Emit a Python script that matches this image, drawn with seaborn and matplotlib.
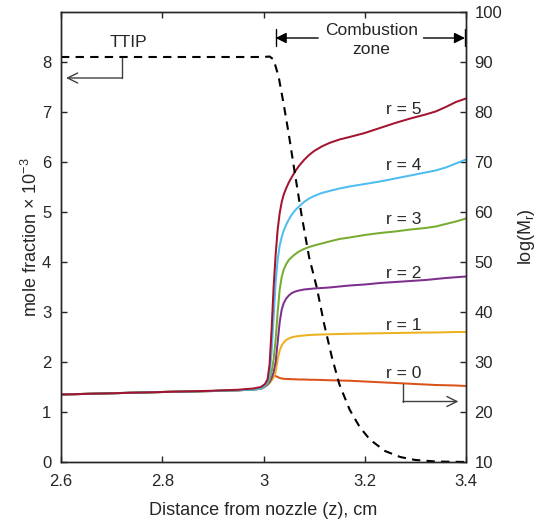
import matplotlib
matplotlib.use("Agg")
import matplotlib.pyplot as plt
import seaborn as sns
import pandas as pd

# ---------------- data ----------------
z_grid = [2.600, 2.700, 2.800, 2.900, 2.950, 2.980, 2.995, 3.003, 3.008, 3.012,
          3.016, 3.020, 3.024, 3.028, 3.032, 3.036, 3.040, 3.045, 3.050, 3.056,
          3.063, 3.070, 3.080, 3.090, 3.100, 3.115, 3.130, 3.150, 3.170, 3.200,
          3.230, 3.260, 3.290, 3.320, 3.340, 3.360, 3.380, 3.400]

r0 = [23.5, 23.75, 24.0, 24.2, 24.35, 24.5, 24.65, 25.2, 25.8, 26.4,
      26.9, 27.2, 27.2, 27.0, 26.8, 26.7, 26.65, 26.6, 26.6, 26.55,
      26.55, 26.5, 26.5, 26.45, 26.45, 26.4, 26.35, 26.3, 26.25, 26.1,
      25.95, 25.8, 25.65, 25.5, 25.4, 25.35, 25.3, 25.2]
r1 = [23.5, 23.75, 24.0, 24.2, 24.35, 24.5, 24.65, 25.1, 25.4, 25.8,
      26.3, 26.9, 28.0, 30.5, 32.3, 33.3, 33.9, 34.4, 34.7, 34.95,
      35.1, 35.2, 35.3, 35.4, 35.45, 35.5, 35.55, 35.6, 35.65, 35.7,
      35.75, 35.8, 35.85, 35.9, 35.9, 35.95, 36.0, 36.0]
r2 = [23.5, 23.75, 24.0, 24.2, 24.35, 24.5, 24.65, 25.1, 25.5, 26.0,
      26.8, 28.0, 30.0, 34.0, 38.0, 40.5, 41.8, 42.7, 43.3, 43.8,
      44.1, 44.3, 44.5, 44.6, 44.7, 44.8, 44.9, 45.1, 45.3, 45.5,
      45.8, 46.0, 46.2, 46.4, 46.6, 46.8, 46.95, 47.1]
r3 = [23.5, 23.75, 24.0, 24.2, 24.35, 24.5, 24.65, 25.2, 25.7, 26.5,
      28.0, 30.5, 34.5, 40.0, 44.5, 47.0, 48.5, 49.6, 50.4, 51.0,
      51.6, 52.1, 52.6, 53.0, 53.3, 53.7, 54.1, 54.6, 54.9, 55.4,
      55.8, 56.1, 56.5, 56.8, 57.1, 57.6, 58.1, 58.7]
r4 = [23.5, 23.75, 24.0, 24.2, 24.35, 24.5, 24.7, 25.3, 26.0, 27.5,
      32.0, 39.0, 46.0, 50.5, 53.3, 55.0, 56.3, 57.5, 58.5, 59.5,
      60.4, 61.1, 62.0, 62.7, 63.2, 63.8, 64.2, 64.7, 65.1, 65.6,
      66.1, 66.7, 67.3, 67.9, 68.3, 68.9, 69.7, 70.5]
r5 = [23.5, 23.75, 24.0, 24.25, 24.45, 24.7, 25.0, 25.6, 26.5, 29.5,
      36.5, 45.0, 51.5, 56.5, 59.8, 62.0, 63.5, 64.8, 65.9, 67.0,
      68.2, 69.2, 70.4, 71.4, 72.2, 73.1, 73.8, 74.5, 75.0, 75.8,
      76.8, 77.8, 78.7, 79.5, 80.1, 81.0, 82.0, 82.7]

ttip_z = [2.60, 2.80, 3.000, 3.012, 3.020, 3.030, 3.040, 3.050, 3.060, 3.075,
          3.090, 3.105, 3.120, 3.135, 3.150, 3.170, 3.190, 3.210, 3.240, 3.270,
          3.300, 3.340, 3.400]
ttip = [8.10, 8.10, 8.10, 8.11, 8.05, 7.70, 7.15, 6.55, 5.90, 4.95,
        4.10, 3.50, 2.75, 2.10, 1.55, 1.05, 0.70, 0.45, 0.22, 0.10,
        0.04, 0.01, 0.00]

r_names = ["r = 0", "r = 1", "r = 2", "r = 3", "r = 4", "r = 5"]
r_colors = ["#D95319", "#EDB120", "#7E2F8E", "#77AC30", "#4DBEEE", "#A2142F"]
r_label_y = [27.8, 37.4, 47.8, 58.4, 69.2, 80.5]

x_ticks = [2.6, 2.8, 3.0, 3.2, 3.4]
x_ticklabels = ["2.6", "2.8", "3", "3.2", "3.4"]
left_ticks = [0, 1, 2, 3, 4, 5, 6, 7, 8]
right_ticks = [10, 20, 30, 40, 50, 60, 70, 80, 90, 100]

# ---------------- style ----------------
sns.set_theme(style="ticks")
plt.rcParams["font.family"] = ["Liberation Sans", "DejaVu Sans"]
plt.rcParams["mathtext.fontset"] = "custom"
plt.rcParams["mathtext.rm"] = "Liberation Sans"
plt.rcParams["mathtext.it"] = "Liberation Sans:italic"
plt.rcParams["axes.linewidth"] = 1.0
TXT = "#262626"

fig = plt.figure(figsize=(5.4, 5.25), dpi=100)
ax = fig.add_axes([61 / 540, 63 / 525, 405 / 540, 450 / 525])
ax2 = ax.twinx()

series = [r0, r1, r2, r3, r4, r5]
rows = []
for name, vals in zip(r_names, series):
    for zz, v in zip(z_grid, vals):
        rows.append({"z": zz, "logM": v, "r": name})
df = pd.DataFrame(rows)

sns.lineplot(data=df, x="z", y="logM", hue="r", hue_order=r_names,
             palette=r_colors, linewidth=1.45, legend=False, ax=ax2, sort=True)

df_t = pd.DataFrame({"z": ttip_z, "x": ttip})
sns.lineplot(data=df_t, x="z", y="x", color="black", linewidth=1.5, ax=ax)
ax.get_lines()[-1].set_dashes([4, 3])

# dashed line over the coloured curves
ax.set_zorder(ax2.get_zorder() + 1)
ax.patch.set_visible(False)

ax.set_xlim(2.6, 3.4)
ax.set_ylim(0, 9)
ax2.set_ylim(10, 100)
ax.set_xticks(x_ticks)
ax.set_xticklabels(x_ticklabels)
ax.set_yticks(left_ticks)
ax2.set_yticks(right_ticks)

for a in (ax, ax2):
    for s in a.spines.values():
        s.set_color(TXT)
        s.set_linewidth(1.0)
ax.tick_params(axis="both", direction="in", length=4, width=1.0, colors=TXT,
               labelsize=12, top=True, right=False)
ax.tick_params(axis="x", pad=9)
ax.tick_params(axis="y", pad=7)
ax2.tick_params(axis="y", direction="in", length=4, width=1.0, colors=TXT,
                labelsize=12, pad=6)

ax.set_xlabel("Distance from nozzle (z), cm", fontsize=13, color=TXT, labelpad=9)
ax.set_ylabel("mole fraction × 10$^{\\mathregular{-3}}$", fontsize=13, color=TXT, labelpad=1)
ax2.set_ylabel("log(M$_{\\mathregular{r}}$)", fontsize=13, color=TXT, labelpad=10)

# r labels
for name, yv in zip(r_names, r_label_y):
    ax2.text(3.277, yv, name, ha="center", va="center", fontsize=12.5, color=TXT)

# r = 0 bracket arrow
ax2.plot([3.276, 3.276], [25.6, 22.1], color="#404040", lw=1.0)
ax2.annotate("", xy=(3.385, 22.1), xytext=(3.2755, 22.1),
             arrowprops=dict(arrowstyle="->", color="#404040", lw=1.0,
                             mutation_scale=18, shrinkA=0, shrinkB=0))

# TTIP label and bracket arrow
ax.text(2.734, 8.38, "TTIP", ha="center", va="center", fontsize=12.5, color=TXT)
ax.plot([2.72, 2.72], [8.08, 7.68], color="#404040", lw=1.0)
ax.annotate("", xy=(2.61, 7.68), xytext=(2.7205, 7.68),
            arrowprops=dict(arrowstyle="->", color="#404040", lw=1.0,
                            mutation_scale=18, shrinkA=0, shrinkB=0))

# Combustion zone
ax.text(3.213, 8.63, "Combustion", ha="center", va="center", fontsize=12.5, color=TXT)
ax.text(3.213, 8.26, "zone", ha="center", va="center", fontsize=12.5, color=TXT)
ax.plot([3.024, 3.024], [8.32, 8.66], color="black", lw=1.0, clip_on=False)
ax.plot([3.398, 3.398], [8.32, 8.66], color="black", lw=1.0, clip_on=False)
ax.annotate("", xy=(3.024, 8.48), xytext=(3.108, 8.48),
            arrowprops=dict(arrowstyle="-|>", color="black", lw=1.0,
                            mutation_scale=16, shrinkA=0, shrinkB=0))
ax.annotate("", xy=(3.398, 8.48), xytext=(3.316, 8.48),
            arrowprops=dict(arrowstyle="-|>", color="black", lw=1.0,
                            mutation_scale=16, shrinkA=0, shrinkB=0))

fig.savefig("out.png", dpi=100, facecolor="white")
